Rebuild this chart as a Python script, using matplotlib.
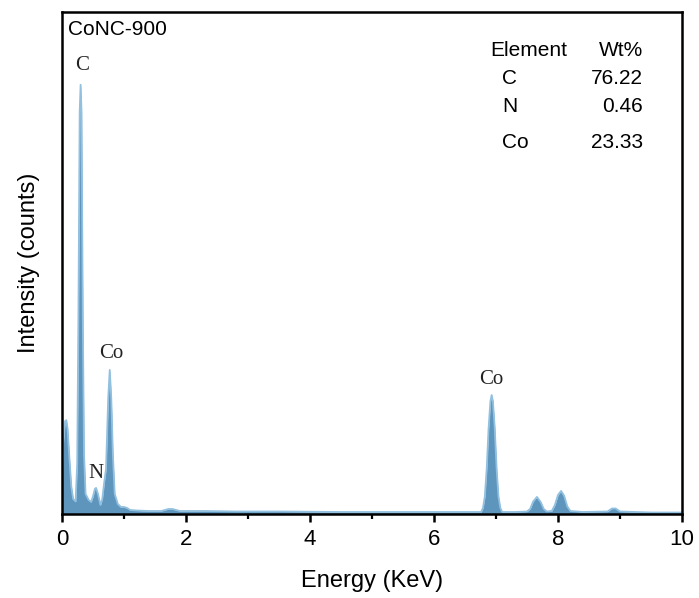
import matplotlib
matplotlib.use("Agg")
import matplotlib.pyplot as plt
from matplotlib.ticker import MultipleLocator

plt.rcParams['font.family'] = ['Liberation Sans', 'DejaVu Sans']

# Spectrum samples (energy in keV, intensity in arbitrary counts)
energy = [0.00, 0.02, 0.05, 0.07, 0.09, 0.12, 0.15, 0.18, 0.22, 0.245, 0.265, 0.285, 0.30,
          0.315, 0.335, 0.355, 0.38, 0.43, 0.47, 0.50, 0.53, 0.55, 0.58, 0.62, 0.65, 0.68,
          0.71, 0.745, 0.77, 0.795, 0.82, 0.85, 0.90, 0.95, 1.00, 1.05, 1.10, 1.20,
          1.40, 1.60, 1.72, 1.78, 1.90, 2.30, 2.80, 3.50, 4.50, 5.50, 6.30, 6.70,
          6.76, 6.79, 6.82, 6.85, 6.88, 6.91, 6.93, 6.95, 6.98, 7.01, 7.04, 7.07, 7.10,
          7.30, 7.50, 7.55, 7.60, 7.66, 7.72, 7.77, 7.82, 7.90, 7.95, 8.00, 8.05,
          8.10, 8.15, 8.20, 8.40, 8.80, 8.87, 8.93, 9.00, 9.50, 10.00]
counts = [60, 140, 185, 187, 170, 110, 55, 30, 25, 100, 400, 800, 855,
          800, 400, 120, 40, 28, 24, 35, 50, 52, 40, 18, 30, 62,
          90, 230, 287, 230, 120, 40, 20, 14, 14, 12, 8, 7,
          6, 6, 10, 10, 6, 6, 5, 5, 4, 4, 4, 4,
          4, 12, 35, 90, 170, 225, 237, 225, 170, 90, 35, 12, 4,
          4, 5, 10, 25, 34, 24, 10, 5, 6, 18, 38, 46,
          36, 15, 6, 4, 5, 11, 11, 5, 3, 3]

# Peak labels
peak_names = ["C", "N", "Co", "Co"]
peak_x = [0.32, 0.55, 0.80, 6.93]
peak_y = [875, 62, 300, 250]

# Composition table
elements = ["C", "N", "Co"]
wt_pct = ["76.22", "0.46", "23.33"]

fig = plt.figure(figsize=(6.99, 5.98), dpi=100)
ax = fig.add_axes([62/699, 84/598, 620/699, 502/598])

ax.fill_between(energy, counts, 0, color='#5e95bd', linewidth=0)
ax.plot(energy, counts, color='#92c0df', lw=1.3)

for name, x, y in zip(peak_names, peak_x, peak_y):
    ax.text(x, y, name, family='Liberation Serif', fontsize=15,
            ha='center', va='bottom', color='#222222')

ax.set_xlim(0, 10)
ax.set_ylim(0, 1000)
ax.xaxis.set_major_locator(MultipleLocator(2))
ax.xaxis.set_minor_locator(MultipleLocator(1))
ax.set_yticks([])
ax.tick_params(axis='x', which='major', direction='out', length=6, width=1.8,
               labelsize=16, pad=5)
ax.tick_params(axis='x', which='minor', direction='out', length=3.5, width=1.6)
for sp in ax.spines.values():
    sp.set_linewidth(1.8)

ax.set_xlabel("Energy (KeV)", fontsize=17, labelpad=14)
ax.set_ylabel("Intensity (counts)", fontsize=17, labelpad=16)

ax.text(0.009, 0.985, "CoNC-900", transform=ax.transAxes, fontsize=15,
        ha='left', va='top')

# table
ax.text(428/620, 1 - 38/502, "Element", transform=ax.transAxes, fontsize=15,
        ha='left', va='center')
ax.text(581/620, 1 - 38/502, "Wt%", transform=ax.transAxes, fontsize=15,
        ha='right', va='center')
row_y = [66, 94, 131]
for el, wt, ry in zip(elements, wt_pct, row_y):
    ax.text(440/620, 1 - ry/502, el, transform=ax.transAxes, fontsize=15,
            ha='left', va='center')
    ax.text(581/620, 1 - ry/502, wt, transform=ax.transAxes, fontsize=15,
            ha='right', va='center')

fig.savefig("out.png", dpi=100)
